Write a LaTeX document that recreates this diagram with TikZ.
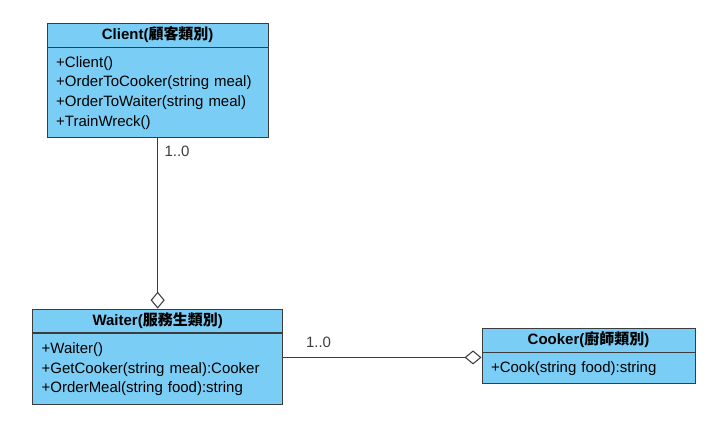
\documentclass[tikz,border=0pt]{standalone}
\usepackage{fontspec}
\setmainfont{Liberation Sans}
\newfontfamily\cjk{Noto Sans CJK TC}
\usepackage{xcolor}
\usetikzlibrary{arrows.meta,positioning}
\definecolor{classblue}{RGB}{122,206,245}
\definecolor{edgegray}{RGB}{60,60,60}

\begin{document}
\begin{tikzpicture}[
    every node/.style={font=\fontsize{12.8}{16.8}\selectfont},
    head/.style={rectangle, draw=edgegray, line width=0.8pt, fill=classblue, minimum height=0.66cm, font=\fontsize{12.8}{16.8}\selectfont\bfseries},
    body/.style={rectangle, draw=edgegray, line width=0.8pt, fill=classblue, align=left, inner xsep=0.27cm},
    aggr/.style={draw=edgegray, line width=0.9pt, -{Diamond[open, length=0.51cm, width=0.42cm]}},
    mult/.style={text=edgegray, inner sep=2pt},
]
    \useasboundingbox (0,0) rectangle (21.42,-12.63);

    % Client (top)
    \node[head, minimum width=6.63cm] (clientHead) at (4.73,-1.05) {Client({\cjk 顧客類別})};
    \node[body, text width=6.09cm, minimum height=2.7cm, below=0pt of clientHead] (clientBody) {+Client()\\+OrderToCooker(string meal)\\+OrderToWaiter(string meal)\\+TrainWreck()};

    % Waiter (bottom left)
    \node[head, minimum width=7.5cm] (waiterHead) at (4.73,-9.63) {Waiter({\cjk 服務生類別})};
    \node[body, text width=6.96cm, minimum height=2.13cm, below=0pt of waiterHead] (waiterBody) {+Waiter()\\+GetCooker(string meal):Cooker\\+OrderMeal(string food):string};

    % Cooker (bottom right)
    \node[head, minimum width=6.39cm] (cookerHead) at (17.655,-10.2) {Cooker({\cjk 廚師類別})};
    \node[body, text width=5.85cm, minimum height=0.93cm, below=0pt of cookerHead] (cookerBody) {+Cook(string food):string};

    % Aggregations
    \coordinate (joinY) at ([yshift=-0.15cm]cookerBody.north west);
    \draw[aggr] (clientBody.south) -- (waiterHead.north)
        node[mult, pos=0, anchor=north west, xshift=0.12cm, yshift=-0.15cm] {1..0};
    \draw[aggr] (waiterBody.east |- joinY) -- (joinY)
        node[mult, pos=0, anchor=south west, xshift=0.6cm, yshift=0.2cm] {1..0};
\end{tikzpicture}
\end{document}
